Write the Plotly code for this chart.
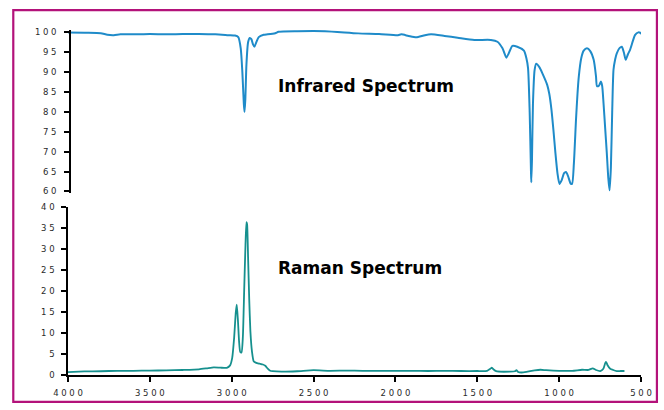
import plotly.graph_objects as go

# ---------------- data ----------------
ir_wn = [4000, 3900, 3800, 3760, 3720, 3680, 3600, 3500, 3400, 3300, 3200, 3100, 3020, 2980,
         2960, 2945, 2935, 2926, 2922, 2917, 2910, 2900, 2890, 2880, 2870, 2861, 2850, 2835,
         2805, 2780, 2734, 2714, 2600, 2430, 2228, 2100, 1984, 1964, 1920, 1873, 1820, 1782,
         1700, 1620, 1518, 1417, 1377, 1346, 1322, 1300, 1286, 1256, 1215, 1200, 1190, 1180,
         1172, 1170, 1166, 1160, 1150, 1140, 1120, 1103, 1073, 1060, 1047, 1035, 1023, 1010,
         998, 985, 970, 958, 945, 930, 921, 910, 897, 888, 880, 865, 850, 830, 810, 789, 775,
         769, 757, 745, 737, 729, 719, 709, 700, 692, 684, 676, 668, 658, 648, 630, 617, 605,
         593, 580, 567, 550, 537, 516, 505, 496]
ir_t = [100.0, 99.9, 99.8, 99.4, 99.3, 99.5, 99.5, 99.6, 99.5, 99.6, 99.6, 99.5, 99.3, 99.2,
        98.8, 96.0, 90.0, 82.0, 80.0, 83.0, 92.0, 97.5, 98.6, 98.3, 97.0, 96.4, 97.5, 98.8,
        99.4, 99.5, 99.8, 100.15, 100.3, 100.3, 99.75, 99.6, 99.3, 99.5, 99.1, 98.75, 99.3, 99.5,
        99.1, 98.65, 98.1, 98.1, 97.65, 96.0, 93.65, 95.5, 96.6, 96.4, 95.4, 93.5, 91.0, 80.0,
        65.0, 62.3, 68.0, 82.0, 90.5, 92.1, 91.2, 89.75, 86.8, 84.5, 80.6, 75.5, 69.75, 64.5,
        61.9, 62.8, 64.6, 64.9, 63.8, 62.0, 61.9, 67.0, 78.1, 84.5, 88.9, 93.5, 95.4, 96.0, 95.3,
        93.1, 89.0, 86.5, 86.6, 87.65, 86.5, 82.25, 76.0, 69.75, 63.5, 60.3, 66.0, 80.0, 90.6,
        93.2, 94.75, 96.1, 96.4, 95.0, 93.1, 94.5, 95.6, 97.8, 99.3, 100.0, 99.9, 99.6]

raman_wn = [4000, 3900, 3800, 3700, 3600, 3500, 3400, 3300, 3200, 3150, 3110, 3070, 3030, 3010,
            2997, 2985, 2975, 2969, 2962, 2955, 2948, 2940, 2932, 2924, 2916, 2910, 2906, 2900,
            2893, 2886, 2876, 2866, 2850, 2830, 2810, 2795, 2780, 2765, 2750, 2695, 2600, 2500,
            2400, 2300, 2200, 2100, 2000, 1900, 1800, 1700, 1600, 1500, 1440, 1420, 1411, 1400,
            1385, 1300, 1270, 1261, 1250, 1230, 1200, 1150, 1114, 1080, 1000, 920, 860, 820, 795,
            775, 749, 730, 718, 713, 705, 688, 670, 648, 625, 601]
raman_i = [0.7, 0.85, 0.9, 1.0, 1.0, 1.05, 1.1, 1.2, 1.35, 1.6, 1.8, 1.75, 1.7, 2.3,
           4.1, 9.0, 15.0, 16.8, 13.0, 8.0, 5.5, 5.4, 9.0, 20.0, 31.0, 36.5, 36.0, 28.0,
           18.0, 10.5, 5.5, 3.3, 2.9, 2.7, 2.5, 2.2, 1.5, 1.0, 0.9, 0.8, 0.9, 1.15,
           1.0, 1.05, 1.0, 1.0, 1.0, 1.0, 0.95, 1.0, 0.95, 0.95, 1.0, 1.5, 1.75, 1.3,
           0.9, 0.8, 0.9, 1.15, 0.7, 0.6, 0.75, 1.1, 1.25, 1.15, 1.0, 1.0, 1.25, 1.2, 1.6,
           1.2, 0.95, 1.5, 2.9, 3.1, 2.4, 1.5, 1.2, 0.95, 0.95, 0.95]

x_ticks = [4000, 3500, 3000, 2500, 2000, 1500, 1000, 500]
ir_ticks = [100, 95, 90, 85, 80, 75, 70, 65, 60]
raman_ticks = [40, 35, 30, 25, 20, 15, 10, 5, 0]


def spaced(v):
    return " ".join(str(v))


# ---------------- layout helpers (pixels -> paper) ----------------
W, H = 664, 410
ML, MR, MT, MB = 68, 20, 29, 33
PW, PH = W - ML - MR, H - MT - MB


def yfrac(py):
    return (H - MB - py) / PH


def xfrac(px):
    return (px - ML) / PW


tick_font = dict(family="DejaVu Sans", size=8.5, color="#2a2a2a")
axis_common = dict(showgrid=False, zeroline=False, showline=True, linecolor="black",
                   linewidth=1.5, ticks="outside", ticklen=5, tickwidth=1.5,
                   tickcolor="black", tickfont=tick_font)

fig = go.Figure()
fig.add_trace(go.Scatter(x=ir_wn, y=ir_t, mode="lines", xaxis="x2", yaxis="y2",
                         line=dict(color="#1f8bc9", width=2, shape="spline", smoothing=0.6),
                         showlegend=False))
fig.add_trace(go.Scatter(x=raman_wn, y=raman_i, mode="lines", xaxis="x", yaxis="y",
                         line=dict(color="#16908e", width=1.8, shape="spline", smoothing=0.5),
                         showlegend=False))

fig.update_layout(
    width=W, height=H,
    margin=dict(l=ML, r=MR, t=MT, b=MB, pad=0),
    paper_bgcolor="white", plot_bgcolor="white",
    xaxis=dict(range=[4000, 500], domain=[0, 1], anchor="y",
               tickvals=x_ticks, ticktext=[spaced(v) for v in x_ticks],
               ticklabelstandoff=4, **axis_common),
    yaxis=dict(range=[0, 40], domain=[yfrac(377), yfrac(208.5)], anchor="x",
               tickvals=raman_ticks, ticktext=[spaced(v) for v in raman_ticks],
               ticklabelstandoff=5, **axis_common),
    xaxis2=dict(range=[4000, 500], domain=[0, 1], anchor="y2", matches="x", visible=False),
    yaxis2=dict(range=[59.6, 100.6], domain=[yfrac(194), yfrac(30)], anchor="free",
                overlaying=None, position=xfrac(70),
                tickvals=ir_ticks, ticktext=[spaced(v) for v in ir_ticks],
                ticklabelstandoff=6, **axis_common),
    shapes=[dict(type="rect", xref="paper", yref="paper",
                 x0=xfrac(13), x1=xfrac(660), y0=yfrac(404), y1=yfrac(10),
                 line=dict(color="#b3127a", width=2.2), fillcolor="rgba(0,0,0,0)")],
    annotations=[
        dict(text="Infrared Spectrum", xref="paper", yref="paper", x=xfrac(277), y=yfrac(86),
             xanchor="left", yanchor="middle", showarrow=False,
             font=dict(family="DejaVu Sans", size=17, color="black", weight="bold")),
        dict(text="Raman Spectrum", xref="paper", yref="paper", x=xfrac(277), y=yfrac(269),
             xanchor="left", yanchor="middle", showarrow=False,
             font=dict(family="DejaVu Sans", size=17, color="black", weight="bold")),
    ],
)

fig.write_html("out.html")
